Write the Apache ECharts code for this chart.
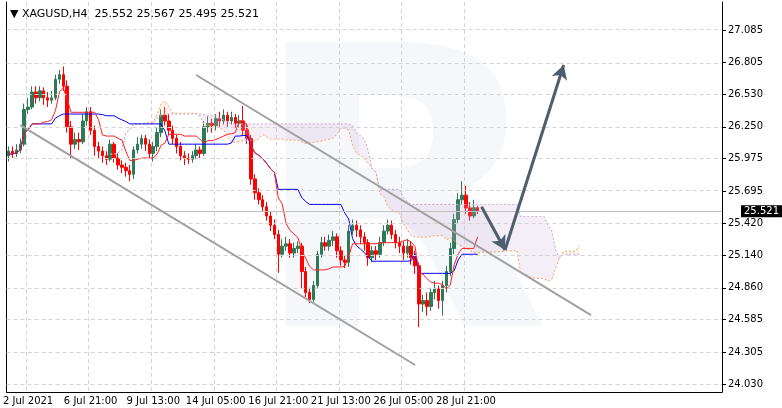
<!DOCTYPE html>
<html><head><meta charset="utf-8">
<script src="https://cdn.jsdelivr.net/npm/echarts@6/dist/echarts.min.js"></script>
<style>html,body{margin:0;padding:0;background:#fff}#c{width:782px;height:408px}</style>
</head><body><div id="c"></div>
<script>
const totalSlots = 183;
const tickIdx = [5,21,37,53,69,85,101,117];
const tickLabels = ["2 Jul 2021","6 Jul 21:00","9 Jul 13:00","14 Jul 05:00","16 Jul 21:00","21 Jul 13:00","26 Jul 05:00","28 Jul 21:00"];
const yTicks = [24.030,24.305,24.585,24.860,25.140,25.420,25.695,25.975,26.250,26.530,26.805,27.085];
const firstOpen = 26.00;
const closes = [26.04,26.02,26.05,26.10,26.40,26.42,26.55,26.50,26.56,26.50,
26.48,26.50,26.66,26.70,26.60,26.25,26.10,26.14,26.12,26.30,
26.38,26.22,26.08,26.04,26.00,25.97,26.10,25.98,25.92,25.90,
25.87,25.84,26.05,26.10,26.15,26.10,26.02,26.08,26.20,26.35,
26.30,26.22,26.15,26.08,26.00,25.98,25.97,26.00,26.05,26.02,
26.25,26.28,26.26,26.32,26.30,26.35,26.30,26.33,26.28,26.30,
26.22,26.15,25.80,25.68,25.62,25.56,25.48,25.40,25.32,25.15,
25.22,25.24,25.16,25.20,25.22,25.00,24.82,24.76,24.88,25.15,
25.25,25.22,25.27,25.30,25.18,25.10,25.08,25.35,25.40,25.36,
25.30,25.25,25.12,25.18,25.15,25.25,25.35,25.40,25.32,25.25,
25.22,25.16,25.22,25.12,25.05,24.72,24.75,24.70,24.82,24.85,
24.75,24.88,25.00,25.20,25.45,25.62,25.66,25.55,25.48,25.552,25.521];
const highs = [26.08,26.08,26.10,26.15,26.45,26.50,26.60,26.60,26.60,26.59,
26.55,26.56,26.70,26.74,26.77,26.65,26.30,26.20,26.20,26.36,
26.42,26.42,26.26,26.12,26.08,26.04,26.14,26.12,26.02,25.96,
25.94,25.92,26.08,26.16,26.18,26.18,26.14,26.12,26.25,26.40,
26.42,26.36,26.26,26.18,26.12,26.04,26.02,26.04,26.10,26.08,
26.30,26.34,26.32,26.36,26.38,26.40,26.38,26.38,26.36,26.35,
26.43,26.28,26.18,25.84,25.72,25.66,25.60,25.52,25.45,25.36,
25.28,25.30,25.28,25.25,25.26,25.25,25.04,24.86,24.92,25.18,
25.30,25.30,25.32,25.35,25.33,25.22,25.14,25.40,25.45,25.44,
25.40,25.34,25.28,25.22,25.22,25.30,25.40,25.45,25.44,25.36,
25.30,25.26,25.28,25.26,25.18,25.08,24.80,24.82,24.86,24.92,
24.88,24.92,25.05,25.25,25.50,25.68,25.78,25.74,25.60,25.62,25.567];
const lows = [25.95,25.98,25.99,26.02,26.08,26.36,26.40,26.45,26.47,26.44,
26.42,26.45,26.48,26.62,26.56,26.20,25.98,26.06,26.05,26.10,
26.26,26.18,26.00,25.98,25.94,25.92,25.95,25.94,25.88,25.85,
25.82,25.78,25.80,26.02,26.06,26.04,25.98,25.95,26.04,26.16,
26.26,26.18,26.10,26.02,25.96,25.92,25.93,25.94,25.97,25.98,
26.00,26.20,26.20,26.22,26.25,26.27,26.25,26.27,26.24,26.25,
26.18,26.10,25.75,25.62,25.58,25.52,25.44,25.35,25.28,24.99,
25.12,25.18,25.12,25.12,25.16,24.85,24.78,24.73,24.74,24.86,
25.12,25.18,25.18,25.22,25.12,25.05,25.03,25.04,25.32,25.30,
25.24,25.18,25.05,25.08,25.10,25.12,25.22,25.32,25.28,25.20,
25.16,25.10,25.12,25.06,24.98,24.52,24.65,24.62,24.66,24.76,
24.68,24.62,24.82,24.96,25.15,25.42,25.58,25.50,25.44,25.46,25.495];
// annotations [index, price]
const upperChannel = [[48.2,26.697],[148.5,24.625]];
const lowerChannel = [[3.3,26.265],[103.9,24.194]];
const arrowDown = [[120.7,25.560],[127.0,25.186]];
const arrowUp = [[127.0,25.186],[141.5,26.783]];
const lastPrice = 25.521;

const cats = Array.from({length: totalSlots}, (_, i) => String(i));
const opens = closes.map((c, i) => i === 0 ? firstOpen : closes[i - 1]);
const ohlc = closes.map((c, i) => [opens[i], c, lows[i], highs[i]]);
function mid(n, i) {
  const s = Math.max(0, i - n + 1);
  let hi = -Infinity, lo = Infinity;
  for (let k = s; k <= i; k++) { hi = Math.max(hi, highs[k]); lo = Math.min(lo, lows[k]); }
  return (hi + lo) / 2;
}
const tenkan = closes.map((_, i) => +mid(9, i).toFixed(4));
const kijun = closes.map((_, i) => +mid(26, i).toFixed(4));
const spanA = new Array(totalSlots).fill(null), spanB = new Array(totalSlots).fill(null);
closes.forEach((_, i) => { const j = i + 26; if (j < totalSlots) { spanA[j] = (tenkan[i] + kijun[i]) / 2; spanB[j] = mid(52, i); } });
const base = spanA.map((a, i) => a == null ? null : Math.min(a, spanB[i]));
const bandP = spanA.map((a, i) => a == null ? null : Math.max(0, spanB[i] - a));
const bandO = spanA.map((a, i) => a == null ? null : Math.max(0, a - spanB[i]));

const seg = (p, color, width, sym) => [{coord: p[0], symbol: 'none', lineStyle: {color, width, type: 'solid'}}, {coord: p[1], symbol: sym, symbolSize: sym === 'none' ? 0 : [12, 14]}];

const chart = echarts.init(document.getElementById('c'));
chart.setOption({
  animation: false,
  backgroundColor: '#fff',
  title: {text: '▼ XAGUSD,H4  25.552 25.567 25.495 25.521', left: 5, top: 4,
    textStyle: {fontSize: 11, fontWeight: 'normal', color: '#000', fontFamily: 'DejaVu Sans'}},
  graphic: [{type: 'text', left: 250, top: 30, z: -1, silent: true,
    style: {text: 'R', fontSize: 390, fontWeight: 'bold', fontFamily: 'DejaVu Sans', fill: 'rgba(232,236,242,0.4)'}}],
  grid: {left: 2, right: 60, top: 2, bottom: 16},
  xAxis: {type: 'category', data: cats, boundaryGap: true,
    axisLine: {lineStyle: {color: '#000'}}, axisTick: {show: false},
    axisLabel: {interval: (i) => tickIdx.includes(i), formatter: (v, i) => tickLabels[tickIdx.indexOf(+v)] || '',
      fontSize: 10, color: '#000', fontFamily: 'DejaVu Sans', margin: 4},
    splitLine: {show: true, interval: (i) => tickIdx.includes(i), lineStyle: {color: '#d4d4d4', type: [4, 3]}}},
  yAxis: [{type: 'value', position: 'right', min: 23.961, max: 27.327, scale: true,
    axisLine: {show: true, lineStyle: {color: '#000'}},
    axisTick: {show: true, customValues: yTicks, length: 4, lineStyle: {color: '#000'}},
    axisLabel: {customValues: yTicks, formatter: (v) => v.toFixed(3), fontSize: 10, color: '#000', fontFamily: 'DejaVu Sans', margin: 6},
    splitLine: {show: false}},
    {type: 'value', position: 'left', min: 23.961, max: 27.327, axisLine: {show: true, onZero: false, lineStyle: {color: '#000'}},
     axisLabel: {show: false}, axisTick: {show: false}, splitLine: {show: false}}],
  series: [
    {type: 'line', data: base, stack: 'p', symbol: 'none', lineStyle: {opacity: 0}, silent: true,
     markLine: {silent: true, symbol: 'none', label: {show: false}, lineStyle: {color: '#d4d4d4', type: [4, 3], width: 1},
       data: yTicks.map(v => ({yAxis: v}))}},
    {type: 'line', data: bandP, stack: 'p', symbol: 'none', lineStyle: {opacity: 0}, areaStyle: {color: 'rgba(205,175,215,0.3)'}, silent: true},
    {type: 'line', data: base, stack: 'o', symbol: 'none', lineStyle: {opacity: 0}, silent: true},
    {type: 'line', data: bandO, stack: 'o', symbol: 'none', lineStyle: {opacity: 0}, areaStyle: {color: 'rgba(250,195,150,0.3)'}, silent: true},
    {type: 'line', data: spanA, symbol: 'none', lineStyle: {color: '#f4a460', width: 1, type: [2, 2]}},
    {type: 'line', data: spanB, symbol: 'none', lineStyle: {color: '#c8a8d0', width: 1, type: [2, 2]}},
    {type: 'line', data: kijun, symbol: 'none', lineStyle: {color: '#0000ff', width: 1}},
    {type: 'line', data: tenkan, symbol: 'none', lineStyle: {color: '#ff2020', width: 1}},
    {type: 'candlestick', data: ohlc, barWidth: 3,
     itemStyle: {color: '#2f7a56', color0: '#ff0000', borderColor: '#2f7a56', borderColor0: '#ff0000', borderWidth: 1},
     markLine: {silent: true, symbol: 'none', animation: false,
       data: [
         {yAxis: lastPrice, lineStyle: {color: '#c0c0c0', width: 1, type: 'solid'},
          label: {show: true, position: 'end', formatter: lastPrice.toFixed(3), backgroundColor: '#000', color: '#fff', fontSize: 10, padding: [1, 3], distance: 19, fontFamily: 'DejaVu Sans'}},
         seg(upperChannel, '#a0a0a0', 2, 'none'),
         seg(lowerChannel, '#a0a0a0', 2, 'none'),
         seg(arrowDown, '#4d5e6d', 3, 'arrow'),
         seg(arrowUp, '#4d5e6d', 3, 'arrow')
       ],
       label: {show: false}}}
  ]
});
</script></body></html>
